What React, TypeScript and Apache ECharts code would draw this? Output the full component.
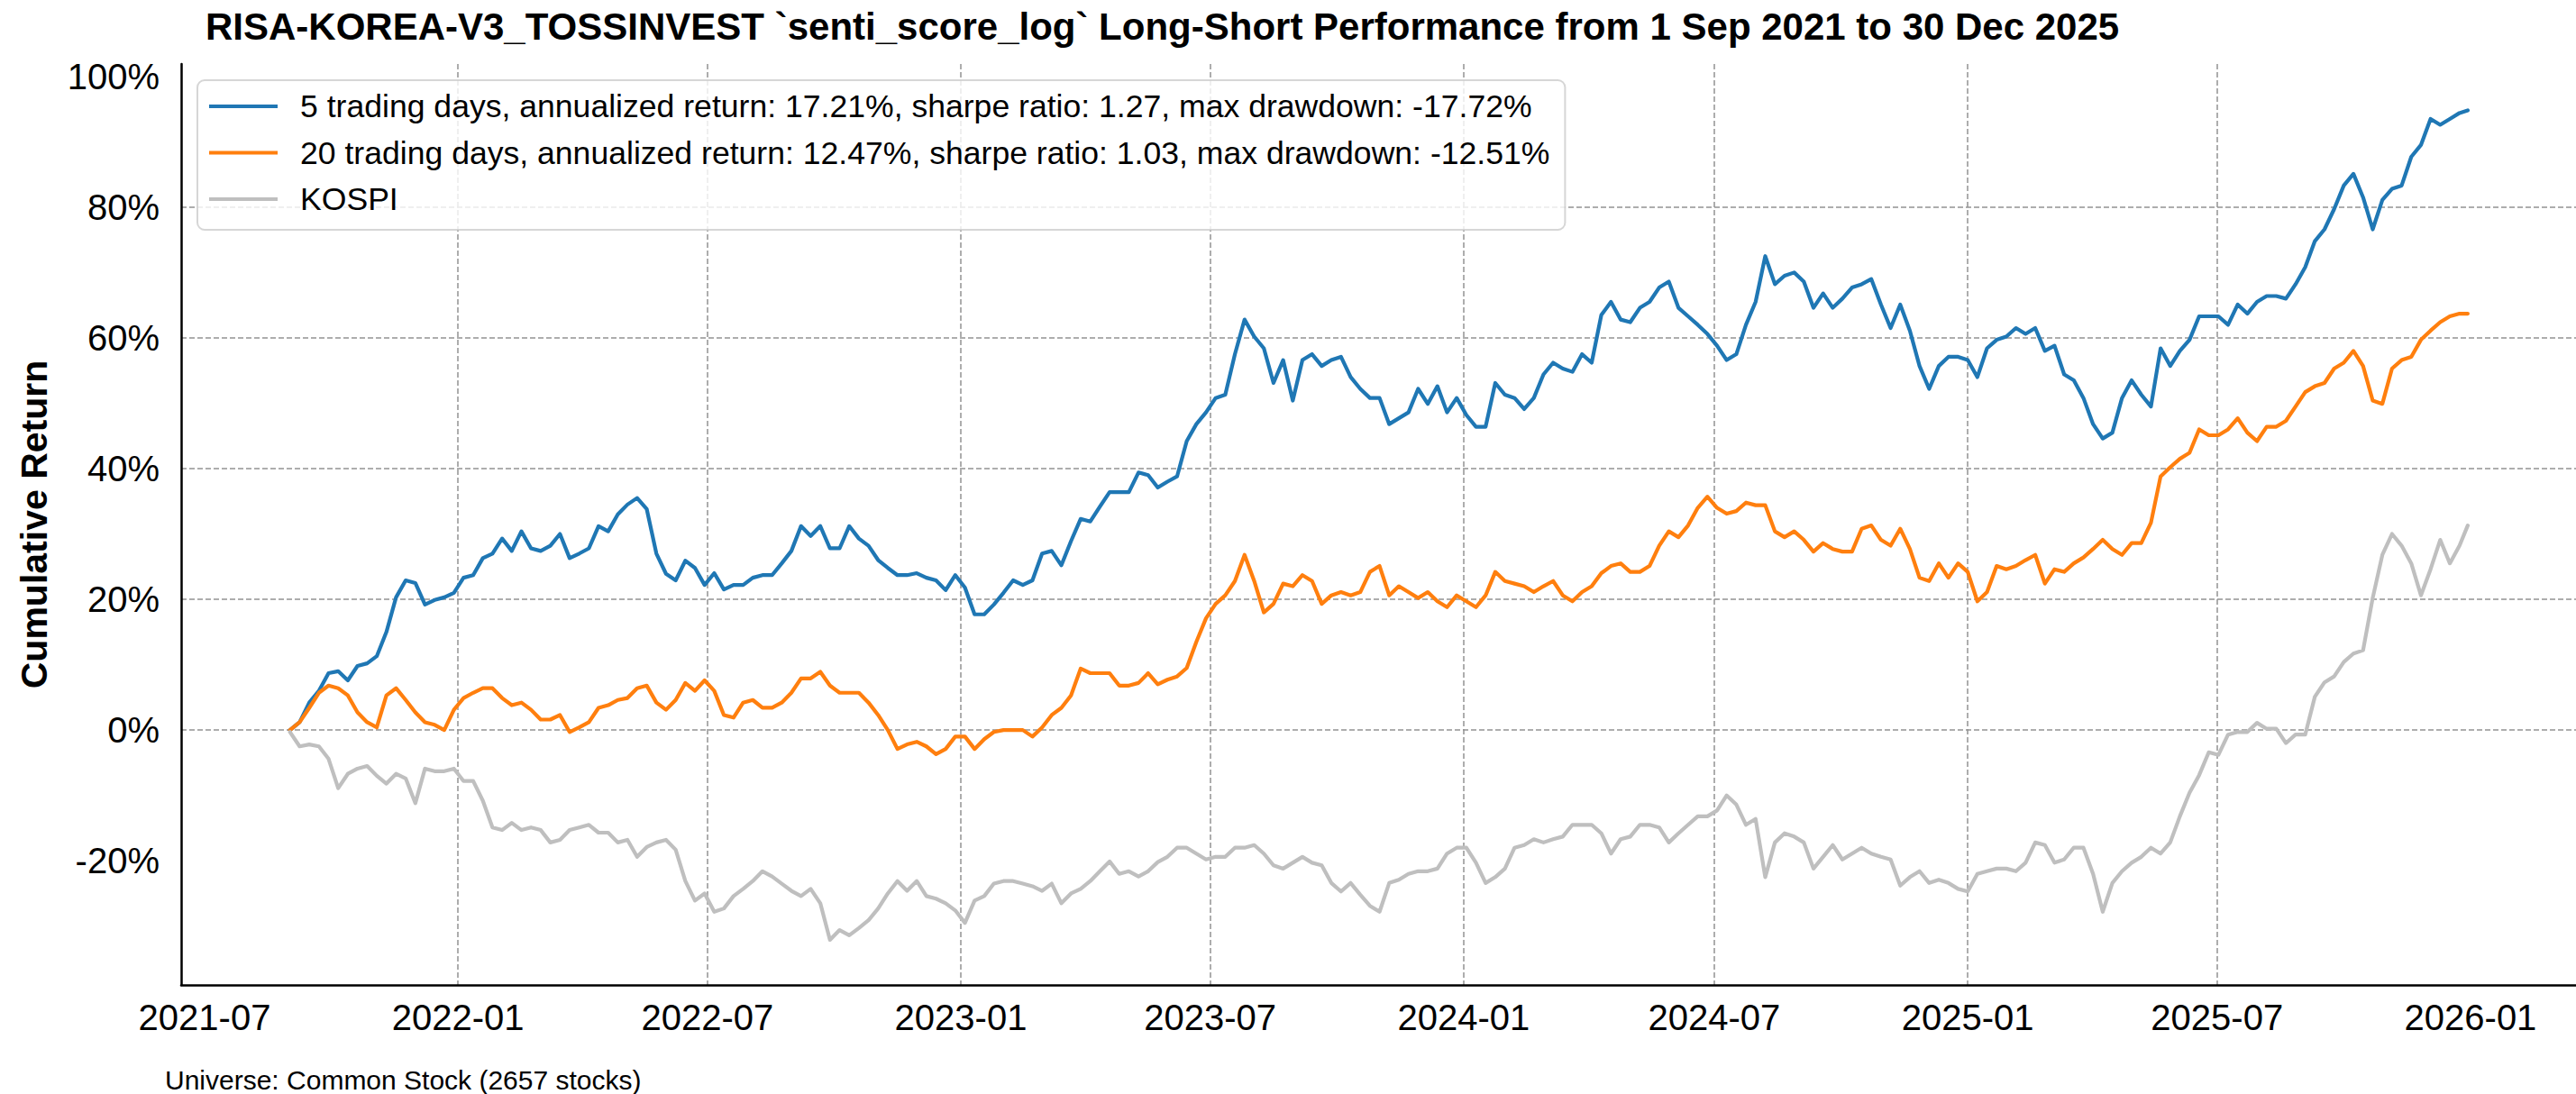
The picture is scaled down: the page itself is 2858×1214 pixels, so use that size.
import React, { useEffect, useRef } from "react";
import * as echarts from "echarts";

const FONT = "'Liberation Sans', Arial, Helvetica, sans-serif";

const TITLE =
  "RISA-KOREA-V3_TOSSINVEST `senti_score_log` Long-Short Performance from 1 Sep 2021 to 30 Dec 2025";
const SERIES_NAMES = [
  "5 trading days, annualized return: 17.21%, sharpe ratio: 1.27, max drawdown: -17.72%",
  "20 trading days, annualized return: 12.47%, sharpe ratio: 1.03, max drawdown: -12.51%",
  "KOSPI",
];
const SERIES_COLORS = ["#1f77b4", "#ff7f0e", "#bfbfbf"];
const Y_LABEL = "Cumulative Return";
const FOOTNOTE = "Universe: Common Stock (2657 stocks)";

const X_TICKS = [
  "2021-07", "2022-01", "2022-07", "2023-01", "2023-07",
  "2024-01", "2024-07", "2025-01", "2025-07", "2026-01",
];
const Y_TICKS = [-20, 0, 20, 40, 60, 80, 100];

// weekly samples starting 2021-09-01, plus the final day 2025-12-30
const FIRST_DATE = "2021-09-01";
const WEEK_COUNT = 226;
const LAST_DATE = "2025-12-30";

const BLUE = [
  0, 1.2, 4.2, 6, 8.7, 9, 7.6, 9.8, 10.2, 11.3,
  15, 20.3, 22.9, 22.5, 19.2, 19.9, 20.3, 21, 23.3, 23.7,
  26.3, 27, 29.3, 27.4, 30.4, 27.8, 27.4, 28.2, 30, 26.3,
  27, 27.8, 31.2, 30.4, 33, 34.5, 35.5, 33.8, 27, 23.9,
  22.9, 25.9, 24.8, 22.2, 24, 21.5, 22.2, 22.2, 23.3, 23.7,
  23.7, 25.5, 27.4, 31.2, 29.7, 31.2, 27.8, 27.8, 31.2, 29.3,
  28.2, 26, 24.8, 23.7, 23.7, 24, 23.3, 22.9, 21.4, 23.7,
  21.8, 17.7, 17.7, 19.2, 21, 22.9, 22.2, 22.9, 27, 27.4,
  25.2, 28.9, 32.3, 31.9, 34.2, 36.4, 36.4, 36.4, 39.4, 39,
  37.1, 38, 38.8, 44.2, 46.8, 48.6, 50.8, 51.3, 57.5, 62.8,
  60.2, 58.4, 53.1, 56.6, 50.4, 56.6, 57.5, 55.7, 56.6, 57.1,
  54, 52.2, 50.8, 50.8, 46.8, 47.7, 48.6, 52.2, 49.9, 52.6,
  48.6, 50.8, 48.2, 46.4, 46.4, 53.1, 51.3, 50.8, 49.1, 50.8,
  54.4, 56.2, 55.3, 54.8, 57.5, 56.2, 63.5, 65.5, 62.8, 62.4,
  64.6, 65.5, 67.7, 68.6, 64.6, 63.3, 62, 60.6, 58.8, 56.6,
  57.5, 62, 65.5, 72.5, 68.2, 69.5, 70, 68.6, 64.6, 66.8,
  64.6, 66, 67.7, 68.2, 69, 65.1, 61.5, 65.1, 61.1, 55.7,
  52.2, 55.7, 57.1, 57.1, 56.6, 54, 58.4, 59.7, 60.2, 61.5,
  60.6, 61.5, 58, 58.8, 54.4, 53.5, 50.8, 46.8, 44.6, 45.5,
  50.8, 53.5, 51.3, 49.5, 58.4, 55.7, 58, 59.7, 63.3, 63.3,
  63.3, 62, 65.1, 63.7, 65.5, 66.4, 66.4, 66, 68.2, 70.8,
  74.8, 76.6, 79.7, 83.3, 85.1, 81.5, 76.6, 81.1, 82.8, 83.3,
  87.7, 89.5, 93.5, 92.6, 93.5, 94.4,
  94.8,
];

const ORANGE = [
  0, 1.2, 3.4, 5.7, 6.8, 6.4, 5.3, 2.7, 1.2, 0.4,
  5.3, 6.4, 4.6, 2.7, 1.2, 0.8, 0, 3.1, 4.9, 5.7,
  6.4, 6.4, 4.9, 3.8, 4.2, 3.1, 1.6, 1.6, 2.3, -0.3,
  0.4, 1.2, 3.4, 3.8, 4.6, 4.9, 6.4, 6.8, 4.2, 3.1,
  4.6, 7.2, 6, 7.6, 6, 2.3, 1.9, 4.2, 4.6, 3.4,
  3.4, 4.2, 5.7, 7.9, 7.9, 8.9, 6.8, 5.7, 5.7, 5.7,
  4.2, 2.3, 0, -2.9, -2.2, -1.8, -2.5, -3.7, -2.9, -1,
  -1, -2.9, -1.4, -0.3, 0, 0, 0, -1, 0.4, 2.3,
  3.4, 5.3, 9.4, 8.7, 8.7, 8.7, 6.8, 6.8, 7.2, 8.7,
  7, 7.7, 8.2, 9.5, 13.5, 17.1, 19.3, 20.6, 22.8, 26.8,
  22.8, 18, 19.3, 22.4, 22, 23.7, 22.8, 19.3, 20.6, 21.1,
  20.6, 21.1, 24.2, 25.1, 20.6, 22, 21.1, 20.2, 21.1, 19.7,
  18.8, 20.6, 19.7, 18.8, 20.6, 24.2, 22.8, 22.4, 22, 21.1,
  22, 22.8, 20.6, 19.7, 21.1, 22, 24, 25.1, 25.5, 24.2,
  24.2, 25.1, 28.2, 30.4, 29.5, 31.3, 34, 35.7, 34, 33.1,
  33.5, 34.8, 34.4, 34.4, 30.4, 29.5, 30.4, 29.1, 27.3, 28.6,
  27.7, 27.3, 27.3, 30.8, 31.3, 29.1, 28.2, 30.8, 27.7, 23.3,
  22.8, 25.5, 23.3, 25.5, 24.2, 19.7, 21.1, 25.1, 24.6, 25.1,
  26, 26.8, 22.4, 24.6, 24.2, 25.5, 26.4, 27.7, 29.1, 27.7,
  26.8, 28.6, 28.6, 31.7, 38.8, 40.2, 41.5, 42.4, 46, 45.1,
  45.1, 46, 47.7, 45.5, 44.2, 46.4, 46.4, 47.3, 49.5, 51.7,
  52.6, 53.1, 55.3, 56.2, 58, 55.7, 50.4, 49.9, 55.3, 56.6,
  57.1, 59.7, 61.1, 62.4, 63.3, 63.7,
  63.7,
];

const KOSPI = [
  -0.3, -2.5, -2.2, -2.5, -4.4, -8.9, -6.7, -5.9, -5.5, -7,
  -8.2, -6.7, -7.4, -11.2, -5.9, -6.3, -6.3, -5.9, -7.8, -7.8,
  -10.8, -14.9, -15.3, -14.2, -15.3, -14.9, -15.3, -17.2, -16.8, -15.3,
  -14.9, -14.5, -15.7, -15.7, -17.2, -16.8, -19.4, -17.9, -17.2, -16.8,
  -18.3, -23.1, -26.1, -25, -27.8, -27.3, -25.4, -24.3, -23.1, -21.6,
  -22.4, -23.5, -24.6, -25.4, -24.3, -26.5, -32.1, -30.6, -31.4, -30.3,
  -29.1, -27.3, -25, -23.1, -24.6, -23.1, -25.4, -25.8, -26.5, -27.6,
  -29.5, -26.1, -25.4, -23.5, -23.1, -23.1, -23.5, -23.9, -24.6, -23.5,
  -26.5, -25, -24.3, -23.1, -21.6, -20.1, -22, -21.6, -22.4, -21.6,
  -20.2, -19.4, -18, -18, -18.9, -19.8, -19.4, -19.4, -18, -18,
  -17.6, -18.9, -20.7, -21.2, -20.3, -19.4, -20.3, -20.7, -23.4, -24.7,
  -23.4, -25.2, -26.9, -27.8, -23.4, -22.9, -22, -21.6, -21.6, -21.2,
  -18.9, -18, -18, -20.3, -23.4, -22.5, -21.2, -18, -17.6, -16.7,
  -17.2, -16.7, -16.3, -14.5, -14.5, -14.5, -15.8, -18.9, -16.7, -16.3,
  -14.5, -14.5, -14.9, -17.2, -15.8, -14.5, -13.2, -13.2, -12.3, -10,
  -11.4, -14.5, -13.6, -22.5, -17.2, -15.8, -16.3, -17.2, -21.2, -19.4,
  -17.6, -19.8, -18.9, -18, -18.9, -19.4, -19.8, -23.8, -22.5, -21.6,
  -23.4, -22.9, -23.4, -24.3, -24.7, -22, -21.6, -21.2, -21.2, -21.6,
  -20.3, -17.2, -17.6, -20.3, -19.8, -18, -18, -22, -27.8, -23.4,
  -21.6, -20.3, -19.4, -18, -18.9, -17.2, -13.2, -9.6, -6.9, -3.4,
  -3.8, -0.7, -0.3, -0.3, 1.1, 0.2, 0.2, -2, -0.7, -0.7,
  5.1, 7.3, 8.2, 10.4, 11.7, 12.2, 20.2, 26.8, 30, 28.2,
  25.5, 20.6, 24.6, 29.1, 25.5, 28.2,
  31.3,
];

function parseDay(s: string): number {
  const parts = s.split("-").map(Number);
  return new Date(parts[0], parts[1] - 1, parts[2] || 1).getTime();
}

function buildDates(): number[] {
  const p = FIRST_DATE.split("-").map(Number);
  const out: number[] = [];
  for (let k = 0; k < WEEK_COUNT; k++) {
    out.push(new Date(p[0], p[1] - 1, p[2] + 7 * k).getTime());
  }
  out.push(parseDay(LAST_DATE));
  return out;
}

function fmtMonth(v: number): string {
  const d = new Date(v);
  return `${d.getFullYear()}-${String(d.getMonth() + 1).padStart(2, "0")}`;
}

export default function App() {
  const ref = useRef<HTMLDivElement>(null);

  useEffect(() => {
    if (!ref.current) return;
    const chart = echarts.init(ref.current, undefined, { renderer: "svg" });
    const dates = buildDates();
    const xTickValues = X_TICKS.map(parseDay);
    const xMin = new Date(2021, 5, 14).getTime();
    const xMax = new Date(2026, 2, 18, 14).getTime();
    const grid = {
      type: [6, 3],
      color: "#939393",
      width: 1.5,
    };
    const values = [BLUE, ORANGE, KOSPI];

    chart.setOption({
      animation: false,
      backgroundColor: "#ffffff",
      textStyle: { fontFamily: FONT },
      title: {
        text: TITLE,
        left: 228,
        top: 8,
        padding: 0,
        textStyle: {
          fontSize: 42,
          fontWeight: "bold",
          color: "#000",
          fontFamily: FONT,
          lineHeight: 42,
        },
      },
      legend: {
        orient: "vertical",
        left: 219,
        top: 89,
        padding: [9, 17, 14, 13],
        itemGap: 11.5,
        itemWidth: 76,
        itemHeight: 4,
        icon: "rect",
        backgroundColor: "rgba(255,255,255,0.8)",
        borderColor: "rgba(204,204,204,0.8)",
        borderWidth: 2,
        borderRadius: 8,
        textStyle: {
          fontSize: 35.6,
          lineHeight: 40,
          color: "#000",
          fontFamily: FONT,
          padding: [0, 0, 0, 20],
        },
        data: SERIES_NAMES,
      },
      grid: {
        left: 201,
        right: 0,
        top: 71,
        bottom: 121,
        containLabel: false,
        outerBoundsMode: "none",
      },
      xAxis: {
        type: "value",
        min: xMin,
        max: xMax,
        axisLine: { show: true, onZero: false, lineStyle: { color: "#000", width: 2.5 } },
        axisTick: { show: false, customValues: xTickValues },
        axisLabel: {
          customValues: xTickValues,
          formatter: (v: number) => fmtMonth(v),
          fontSize: 40,
          color: "#000",
          fontFamily: FONT,
          margin: 16,
        },
        splitLine: { show: true, showMinLine: false, showMaxLine: false, lineStyle: grid },
      },
      yAxis: {
        type: "value",
        min: -39.0,
        max: 101.9,
        name: Y_LABEL,
        nameLocation: "middle",
        nameRotate: 90,
        nameGap: 143,
        nameTextStyle: {
          fontSize: 41,
          fontWeight: "bold",
          color: "#000",
          fontFamily: FONT,
        },
        axisLine: { show: true, onZero: false, lineStyle: { color: "#000", width: 2.5 } },
        axisTick: { show: false, customValues: Y_TICKS },
        axisLabel: {
          customValues: Y_TICKS,
          formatter: (v: number) => `${v}%`,
          fontSize: 40,
          color: "#000",
          fontFamily: FONT,
          margin: 24,
        },
        splitLine: { show: true, showMinLine: false, showMaxLine: false, lineStyle: grid },
      },
      graphic: [
        {
          type: "text",
          x: 183,
          y: 1198,
          style: {
            text: FOOTNOTE,
            fontSize: 30,
            fontFamily: FONT,
            fill: "#000",
            align: "left",
            verticalAlign: "middle",
          },
        },
      ],
      series: SERIES_NAMES.map((name, i) => ({
        name,
        type: "line",
        showSymbol: false,
        symbol: "none",
        color: SERIES_COLORS[i],
        lineStyle: { color: SERIES_COLORS[i], width: 4.2, join: "round", cap: "round" },
        itemStyle: { color: SERIES_COLORS[i] },
        emphasis: { disabled: true },
        data: dates.map((t, j) => [t, values[i][j]]),
      })),
    });

    return () => chart.dispose();
  }, []);

  return (
    <div
      ref={ref}
      style={{
        position: "fixed",
        left: 0,
        top: 0,
        width: 2858,
        height: 1214,
        background: "#fff",
      }}
    />
  );
}
